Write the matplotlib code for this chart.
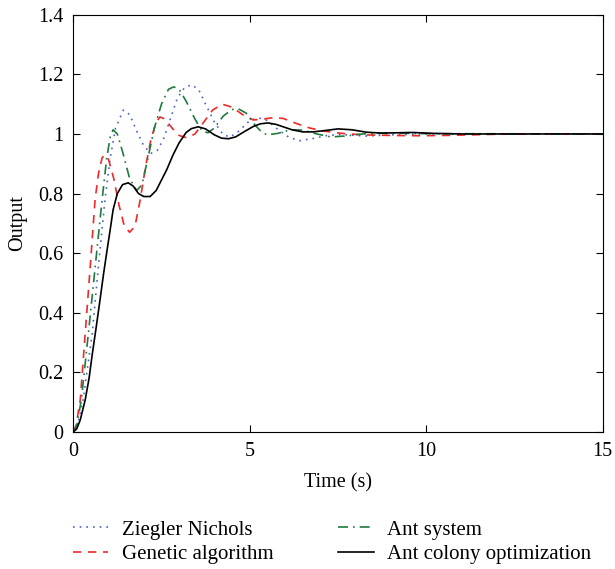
import matplotlib
matplotlib.use('Agg')
import matplotlib.pyplot as plt

plt.rcParams['font.family'] = ['Liberation Serif', 'DejaVu Serif']
plt.rcParams['font.size'] = 14.5

# Ziegler Nichols
zn_t = [0, 0.1, 0.28, 0.4, 0.54, 0.71, 0.9, 1.05, 1.2, 1.42, 1.6, 1.8, 2.0, 2.2,
        2.38, 2.55, 2.75, 2.95, 3.15, 3.35, 3.55, 3.75, 4.0, 4.25, 4.45, 4.7,
        5.0, 5.25, 5.5, 5.8, 6.1, 6.4, 6.8, 7.2, 7.6, 8.3, 9.0, 10.0, 12.0, 15.0]
zn_y = [0, 0.01, 0.107, 0.21, 0.33, 0.55, 0.78, 0.92, 1.02, 1.08, 1.065, 1.01,
        0.96, 0.935, 0.945, 0.98, 1.05, 1.12, 1.155, 1.165, 1.15, 1.1, 1.04,
        0.997, 0.99, 1.01, 1.045, 1.054, 1.045, 1.015, 0.99, 0.977, 0.985,
        0.995, 0.998, 0.993, 0.997, 1.0, 1.0, 1.0]

# Genetic algorithm
ga_t = [0, 0.08, 0.2, 0.34, 0.48, 0.62, 0.72, 0.82, 0.9, 1.0, 1.15, 1.3, 1.45,
        1.6, 1.75, 1.9, 2.05, 2.2, 2.35, 2.46, 2.6, 2.8, 3.0, 3.22, 3.45, 3.7,
        3.95, 4.22, 4.5, 4.8, 5.1, 5.4, 5.67, 5.95, 6.35, 6.7, 7.08, 7.6, 8.2,
        9.0, 9.8, 10.5, 11.3, 12.0, 13.0, 15.0]
ga_y = [0, 0.02, 0.107, 0.33, 0.55, 0.78, 0.87, 0.92, 0.93, 0.915, 0.85, 0.76,
        0.69, 0.67, 0.69, 0.78, 0.89, 0.98, 1.04, 1.057, 1.05, 1.02, 0.995,
        0.987, 1.0, 1.04, 1.08, 1.1, 1.09, 1.065, 1.047, 1.05, 1.055, 1.052,
        1.034, 1.02, 1.01, 1.002, 0.997, 0.995, 0.994, 0.995, 0.997, 0.999,
        1.0, 1.0]

# Ant system
as_t = [0, 0.1, 0.23, 0.43, 0.62, 0.82, 0.95, 1.05, 1.13, 1.25, 1.4, 1.6, 1.8,
        1.95, 2.1, 2.3, 2.5, 2.7, 2.85, 3.0, 3.2, 3.45, 3.65, 3.82, 4.0, 4.25,
        4.5, 4.67, 4.9, 5.15, 5.35, 5.5, 5.8, 6.15, 6.5, 6.9, 7.3, 7.7, 8.2,
        9.0, 10.0, 15.0]
as_y = [0, 0.02, 0.107, 0.33, 0.55, 0.78, 0.92, 0.99, 1.014, 1.0, 0.94, 0.85,
        0.81, 0.83, 0.91, 1.02, 1.1, 1.15, 1.158, 1.15, 1.11, 1.05, 1.01,
        1.004, 1.02, 1.06, 1.082, 1.085, 1.07, 1.03, 1.005, 0.997, 1.002,
        1.014, 1.013, 1.0, 0.99, 0.993, 1.0, 1.003, 1.001, 1.0]

# Ant colony optimization
aco_t = [0, 0.1, 0.2, 0.34, 0.45, 0.54, 0.65, 0.76, 0.86, 0.96, 1.05, 1.13,
         1.25, 1.4, 1.56, 1.7, 1.85, 2.0, 2.18, 2.35, 2.5, 2.65, 2.83, 3.0,
         3.2, 3.35, 3.54, 3.75, 4.0, 4.2, 4.4, 4.6, 4.85, 5.1, 5.3, 5.52, 5.75,
         6.0, 6.2, 6.5, 6.8, 7.1, 7.5, 7.9, 8.3, 8.7, 9.2, 9.6, 10.2, 11.0,
         12.0, 15.0]
aco_y = [0, 0.01, 0.04, 0.107, 0.18, 0.26, 0.35, 0.443, 0.53, 0.61, 0.68,
         0.745, 0.8, 0.83, 0.836, 0.825, 0.8, 0.79, 0.79, 0.81, 0.845, 0.88,
         0.93, 0.97, 1.005, 1.018, 1.024, 1.017, 0.997, 0.986, 0.984, 0.99,
         1.008, 1.025, 1.034, 1.037, 1.032, 1.022, 1.014, 1.007, 1.007, 1.011,
         1.017, 1.014, 1.006, 1.003, 1.004, 1.005, 1.002, 1.0, 1.0, 1.0]

fig = plt.figure(figsize=(6.15, 5.69), dpi=100)
ax = fig.add_axes([0.119, 0.241, 0.861, 0.733])

ax.plot(zn_t, zn_y, color='#4a62c8', linestyle=(0, (1, 3)), lw=1.2,
        label='Ziegler Nichols')
ax.plot(ga_t, ga_y, color='#f02828', linestyle=(0, (5, 4)), lw=1.2,
        label='Genetic algorithm')
ax.plot(as_t, as_y, color='#1f7a3f', linestyle=(0, (6, 3, 1, 3)), lw=1.2,
        label='Ant system')
ax.plot(aco_t, aco_y, color='black', lw=1.2, label='Ant colony optimization')

ax.set_xlim(0, 15)
ax.set_ylim(0, 1.4)
ax.set_xticks([0, 5, 10, 15])
ax.set_yticks([0, 0.2, 0.4, 0.6, 0.8, 1.0, 1.2, 1.4])
ax.set_yticklabels(['0', '0.2', '0.4', '0.6', '0.8', '1', '1.2', '1.4'])
ax.tick_params(direction='in', top=True, right=True, length=5, pad=7)
ax.set_xlabel('Time (s)', labelpad=9)
ax.set_ylabel('Output', labelpad=8)

handles, labels = ax.get_legend_handles_labels()
fig.legend(handles, labels, ncol=2, frameon=False, loc='upper left',
           bbox_to_anchor=(73 / 615, 1 - 520 / 569),
           bbox_transform=fig.transFigure, fontsize=15,
           borderpad=0, borderaxespad=0, handlelength=1.7,
           handletextpad=0.65, columnspacing=3.1, labelspacing=0.25)

fig.savefig('out.png', dpi=100)
